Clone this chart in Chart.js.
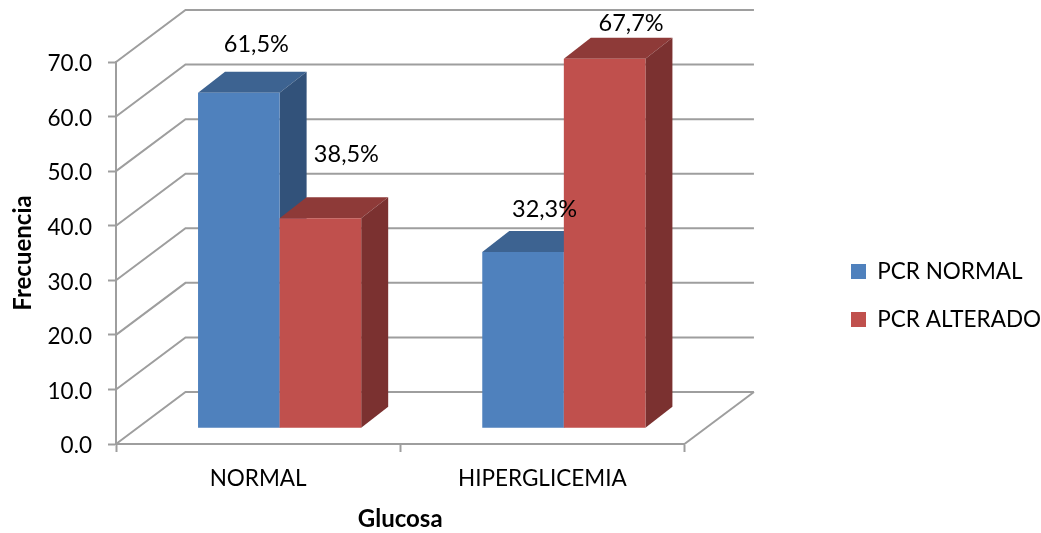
<!DOCTYPE html>
<html>
<head>
<meta charset="utf-8">
<style>
    html, body { margin: 0; padding: 0; background: #fff; }
    canvas { display: block; }
</style>
<script src="https://cdn.jsdelivr.net/npm/chart.js@4/dist/chart.umd.min.js"></script>
</head>
<body>
<canvas id="myChart" width="1041" height="533"></canvas>
<script>
const categories = ['NORMAL', 'HIPERGLICEMIA'];
const pcrNormal = [61.5, 32.3];
const pcrAlterado = [38.5, 67.7];
const pcrNormalLabels = ['61,5%', '32,3%'];
const pcrAlteradoLabels = ['38,5%', '67,7%'];
const yTickLabels = ['0.0', '10.0', '20.0', '30.0', '40.0', '50.0', '60.0', '70.0'];

const fontName = 'Lato';
const gridColor = '#9e9e9e';

// fake 3D: back wall and bar depth, everything else comes from the scales
const wall = { dx: 69.5, dy: -52 };
const barShift = { dx: 21.5, dy: -15.7 };
const barDepth = { dx: 27, dy: -21 };

function polygon(ctx, points, color) {
    ctx.fillStyle = color;
    ctx.beginPath();
    points.forEach((p, i) => i ? ctx.lineTo(p[0], p[1]) : ctx.moveTo(p[0], p[1]));
    ctx.closePath();
    ctx.fill();
}

// legend sits away from the plot, the y labels ride a bit lower than the ticks
const placementPlugin = {
    id: 'placement',
    afterLayout(chart) {
        chart.legend.left = 825.5;
        chart.legend.right = 1041;
        chart.scales.y.getLabelItems().forEach(item => {
            item.options.translation[1] += 2;
        });
    }
};

const wallPlugin = {
    id: 'wall',
    beforeDatasetsDraw(chart) {
        const ctx = chart.ctx;
        const { left, right, bottom } = chart.chartArea;
        ctx.save();
        ctx.strokeStyle = gridColor;
        ctx.lineWidth = 2;
        chart.scales.y.ticks.forEach(tick => {
            const y = chart.scales.y.getPixelForValue(tick.value);
            ctx.beginPath();
            ctx.moveTo(left, y);
            ctx.lineTo(left + wall.dx, y + wall.dy);
            ctx.lineTo(right + wall.dx, y + wall.dy);
            ctx.stroke();
        });
        ctx.beginPath();
        ctx.moveTo(right, bottom);
        ctx.lineTo(right + wall.dx, bottom + wall.dy);
        ctx.stroke();
        ctx.restore();
    }
};

// red has to paint over blue, so the bars are drawn here, first dataset first
const depthPlugin = {
    id: 'depth',
    beforeDatasetDraw() {
        return false;
    },
    afterDatasetsDraw(chart) {
        const ctx = chart.ctx;
        chart.data.datasets.forEach((ds, i) => {
            const meta = chart.getDatasetMeta(i);
            ctx.save();
            ctx.translate(barShift.dx, barShift.dy);
            meta.data.forEach(bar => {
                const l = bar.x - bar.width / 2;
                const r = bar.x + bar.width / 2;
                const d = barDepth;
                polygon(ctx, [[l, bar.y], [r, bar.y], [r + d.dx, bar.y + d.dy], [l + d.dx, bar.y + d.dy]], ds.topColor);
                polygon(ctx, [[r, bar.y], [r + d.dx, bar.y + d.dy], [r + d.dx, bar.base + d.dy], [r, bar.base]], ds.sideColor);
            });
            meta.controller.draw();
            ctx.restore();
        });
    }
};

const percentPlugin = {
    id: 'percent',
    afterDatasetsDraw(chart, args, opts) {
        const ctx = chart.ctx;
        ctx.save();
        ctx.font = opts.size + 'px ' + fontName;
        ctx.fillStyle = '#000';
        ctx.textAlign = 'center';
        ctx.textBaseline = 'middle';
        chart.data.datasets.forEach((ds, i) => {
            chart.getDatasetMeta(i).data.forEach((bar, j) => {
                const off = opts.offsets[i][j];
                ctx.fillText(ds.percent[j], bar.x + barShift.dx + off[0], bar.y + barShift.dy + off[1]);
            });
        });
        ctx.restore();
    }
};

function buildGraphic() {
    const ctx = document.getElementById('myChart').getContext('2d');

    const data = {
        labels: categories,
        datasets: [{
            label: 'PCR NORMAL',
            data: pcrNormal,
            percent: pcrNormalLabels,
            backgroundColor: '#4F81BD',
            topColor: '#3D6391',
            sideColor: '#32527A'
        }, {
            label: 'PCR ALTERADO',
            data: pcrAlterado,
            percent: pcrAlteradoLabels,
            backgroundColor: '#C0504D',
            topColor: '#8E3A38',
            sideColor: '#7B3130'
        }]
    };

    const config = {
        type: 'bar',
        data: data,
        plugins: [placementPlugin, wallPlugin, depthPlugin, percentPlugin],
        options: {
            responsive: false,
            animation: false,
            layout: {
                padding: { top: 62, bottom: 4, left: 0, right: 131 }
            },
            datasets: {
                bar: {
                    barPercentage: 1,
                    categoryPercentage: 0.574
                }
            },
            plugins: {
                tooltip: { enabled: false },
                legend: {
                    position: 'right',
                    labels: {
                        boxWidth: 15,
                        boxHeight: 15,
                        padding: 25.5,
                        color: '#000',
                        font: { family: fontName, size: 22.5 }
                    }
                },
                percent: {
                    size: 23.5,
                    offsets: [[[17.5, -48], [21.5, -43]], [[26, -64], [26.5, -35]]]
                }
            },
            scales: {
                x: {
                    afterFit: scale => { scale.height = 85; },
                    grid: {
                        offset: true,
                        drawOnChartArea: false,
                        tickLength: 8,
                        tickColor: gridColor,
                        tickWidth: 2
                    },
                    border: { color: gridColor, width: 2 },
                    ticks: {
                        padding: 13,
                        color: '#000',
                        maxRotation: 0,
                        font: { family: fontName, size: 22.5 }
                    },
                    title: {
                        display: true,
                        text: 'Glucosa',
                        color: '#000',
                        padding: { top: 0, bottom: -4.5 },
                        font: { family: fontName, size: 24, weight: 'bold' }
                    }
                },
                y: {
                    afterFit: scale => { scale.width = 116; },
                    min: 0,
                    max: 70,
                    grid: {
                        drawOnChartArea: false,
                        tickLength: 8,
                        tickColor: gridColor,
                        tickWidth: 2
                    },
                    border: { color: gridColor, width: 2 },
                    ticks: {
                        stepSize: 10,
                        padding: 16,
                        color: '#000',
                        font: { family: fontName, size: 22.5 },
                        callback: (value, index) => yTickLabels[index]
                    },
                    title: {
                        display: true,
                        text: 'Frecuencia',
                        color: '#000',
                        padding: { top: 9, bottom: 0 },
                        font: { family: fontName, size: 24, weight: 'bold' }
                    }
                }
            }
        }
    };

    return new Chart(ctx, config);
}

buildGraphic();
</script>
</body>
</html>
